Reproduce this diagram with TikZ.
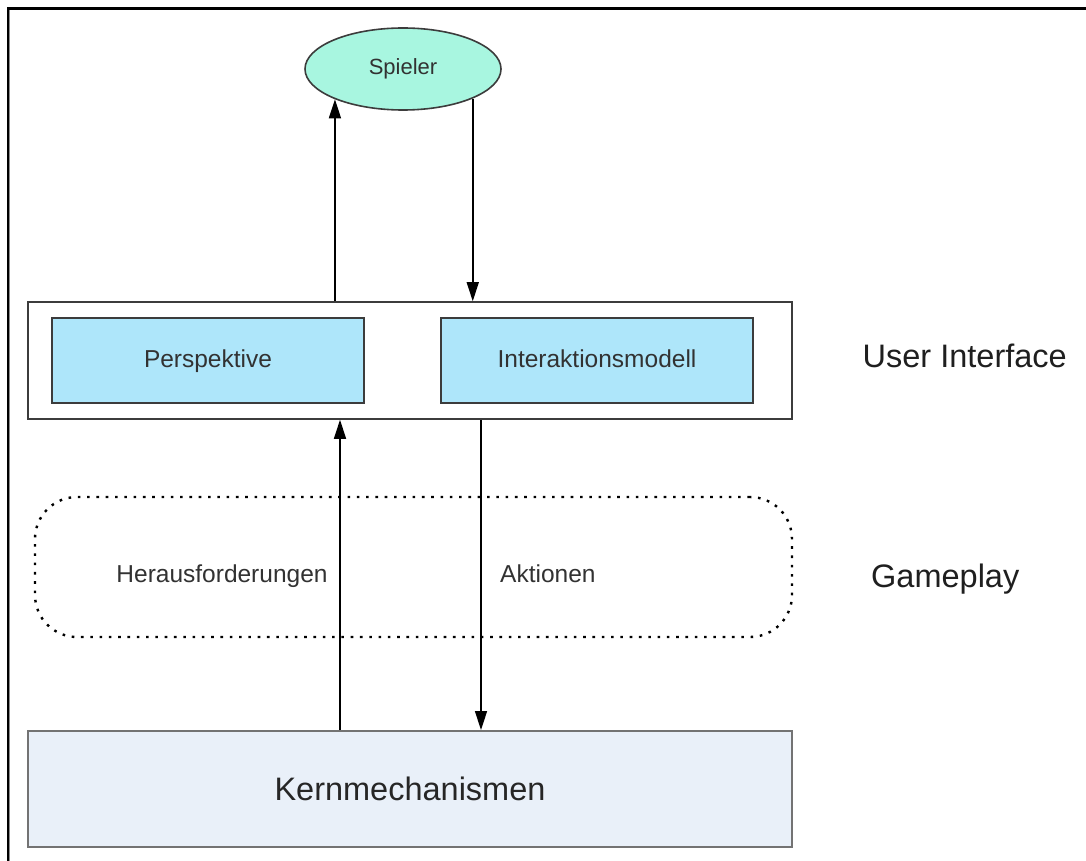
\documentclass[tikz,border=0pt]{standalone}
\usepackage{fontspec}
\setmainfont{Liberation Sans}
\usetikzlibrary{arrows.meta,shapes.geometric}

\definecolor{mint}{RGB}{168,246,224}
\definecolor{skyfill}{RGB}{174,230,250}
\definecolor{corefill}{RGB}{233,240,249}
\definecolor{edgegray}{RGB}{60,60,60}
\definecolor{inktext}{RGB}{50,50,50}

\tikzset{
  boxline/.style={draw=edgegray, line width=1.6pt},
  innerbox/.style={boxline, fill=skyfill, rectangle, inner sep=0pt,
    minimum width=312pt, minimum height=85pt,
    text height=18pt, text depth=5pt,
    font=\fontsize{24.5pt}{28pt}\selectfont, text=inktext},
  flow/.style={draw=black, line width=1.5pt,
    -{Triangle[length=19pt,width=12pt]}},
  sidelabel/.style={anchor=base west, inner sep=0pt,
    font=\fontsize{32.5pt}{38pt}\selectfont, text=black!88},
  flowlabel/.style={inner sep=0pt, font=\fontsize{24.5pt}{28pt}\selectfont,
    text=inktext}
}

\begin{document}
\begin{tikzpicture}[x=1pt,y=-1pt]
  \useasboundingbox (0,0) rectangle (1086,861);
  \fill[white] (0,0) rectangle (1086,861);

  % outer frame (top and left edges)
  \draw[black!45, line width=1pt] (9.8,861) -- (9.8,9.8) -- (1086,9.8);
  \draw[black, line width=2.2pt] (8,861) -- (8,8.5) -- (1086,8.5);

  % player
  \node[ellipse, boxline, fill=mint, minimum width=196pt, minimum height=82pt,
        inner sep=0pt, text height=16pt, text depth=4pt,
        font=\fontsize{22pt}{26pt}\selectfont, text=inktext]
        (spieler) at (403,69) {Spieler};

  % user interface layer
  \node[boxline, rectangle, inner sep=0pt, minimum width=764pt,
        minimum height=117pt] (ui) at (410,360.5) {};
  \node[innerbox] (persp) at (208,360.5) {Perspektive};
  \node[innerbox] (inter) at (597,360.5) {Interaktionsmodell};

  % gameplay layer
  \node[draw=black, line width=2.4pt, rectangle, rounded corners=42pt,
        dash pattern=on 2.6pt off 6.7pt, inner sep=0pt,
        minimum width=757pt, minimum height=140pt] (game) at (413.5,567) {};

  % core mechanics
  \node[draw=black!55, line width=2pt, fill=corefill, rectangle, inner sep=0pt,
        minimum width=764pt, minimum height=116pt,
        font=\fontsize{32.5pt}{38pt}\selectfont, text=black!85]
        (kern) at (410,789) {Kernmechanismen};

  % connector columns
  \coordinate (upx) at (340,0);
  \coordinate (downx) at (481,0);

  % connectors
  \draw[flow] (ui.north -| spieler.204) -- (spieler.204);
  \draw[flow] (spieler.337.5) -- (ui.north -| spieler.337.5);
  \draw[flow] (kern.north -| upx) -- (ui.south -| upx);
  \draw[flow] (ui.south -| downx) -- (kern.north -| downx);

  % connector labels
  \node[flowlabel, anchor=base] (herausf) at (222,582) {Herausforderungen};
  \node[flowlabel, anchor=base west] (aktionen) at (500,582) {Aktionen};

  % layer labels
  \node[sidelabel] (uilabel) at (862.5,367) {User Interface};
  \node[sidelabel] (gplabel) at (871,587) {Gameplay};
\end{tikzpicture}
\end{document}
